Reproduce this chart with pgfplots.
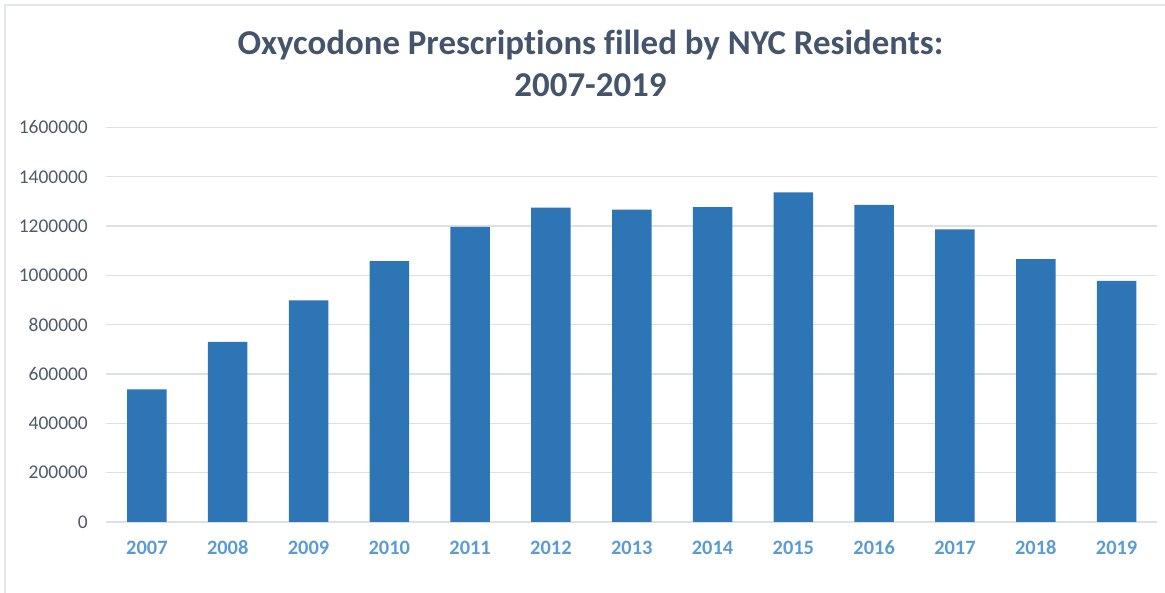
\documentclass[border=0pt]{standalone}
\usepackage{fontspec}
\setmainfont{Carlito}[Ligatures=NoCommon]
\usepackage{pgfplots}
\pgfplotsset{compat=1.18}
\definecolor{barblue}{HTML}{2E75B6}
\definecolor{titlecol}{HTML}{44546A}
\definecolor{ticky}{HTML}{4F5968}
\definecolor{tickx}{HTML}{5B9BD5}
\definecolor{gridc}{HTML}{DCE1E8}
\definecolor{framec}{HTML}{E3E6EB}
\begin{document}
\begin{tikzpicture}[x=1bp,y=1bp]
\draw[framec, line width=1.5bp] (-101.5,-80) -- (-101.5,517) -- (1080,517);
\begin{axis}[
  scale only axis,
  width=1050.5bp, height=394.5bp,
  xmin=-0.5, xmax=12.5,
  ymin=0, ymax=1600000,
  scaled y ticks=false,
  xtick={0,...,12},
  xticklabels={2007,2008,2009,2010,2011,2012,2013,2014,2015,2016,2017,2018,2019},
  ytick={0,200000,400000,600000,800000,1000000,1200000,1400000,1600000},
  yticklabels={0,200000,400000,600000,800000,1000000,1200000,1400000,1600000},
  major tick length=0pt,
  axis line style={draw=none},
  ymajorgrids,
  grid style={gridc, line width=1.3bp},
  /pgf/number format/assume math mode=true,
  yticklabel style={font=\fontsize{19.5}{21}\selectfont, text=ticky, anchor=east, inner sep=0pt, xshift=-18.5bp},
  xticklabel style={font=\fontsize{20.5}{22}\selectfont\bfseries, text=tickx, anchor=center, inner sep=0pt, yshift=-26bp},
  clip=false,
]
\addplot[ybar, bar width=39.5bp, fill=barblue, draw=none] coordinates {
  (0,538000) (1,731000) (2,899000) (3,1058000) (4,1197000) (5,1275000)
  (6,1267000) (7,1277000) (8,1337000) (9,1286000) (10,1187000) (11,1066000) (12,978000)
};
\end{axis}
\node[anchor=base, text=titlecol, font=\fontsize{35}{40}\selectfont\bfseries, inner sep=0pt] at (484,467) {Oxycodone Prescriptions filled by NYC Residents:};
\node[anchor=base, text=titlecol, font=\fontsize{35}{40}\selectfont\bfseries, inner sep=0pt] at (484,425) {2007-2019};
\pgfresetboundingbox
\path[use as bounding box] (-106.5,-71) rectangle (1058.5,522);
\end{tikzpicture}
\end{document}
